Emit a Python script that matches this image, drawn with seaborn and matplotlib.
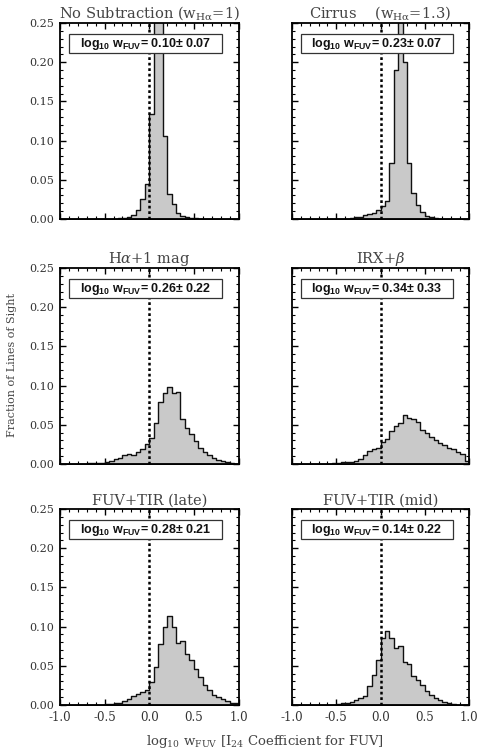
import numpy as np
import pandas as pd
import matplotlib
matplotlib.use("Agg")
import matplotlib.pyplot as plt
from matplotlib.ticker import MultipleLocator, FormatStrFormatter
from matplotlib.patches import Rectangle
import seaborn as sns

# ---------------- data ----------------
bin_edges = [round(-1.0 + 0.05 * i, 3) for i in range(41)]
bin_centers = [round(-0.975 + 0.05 * i, 3) for i in range(40)]

# fractions of lines of sight per 0.05 bin, from -1.0 to 1.0
frac_nosub = [0, 0, 0, 0, 0, 0, 0, 0, 0, 0,
              0, 0, 0, 0.001, 0.001, 0.002, 0.005, 0.012, 0.025, 0.045,
              0.134, 0.300, 0.290, 0.106, 0.032, 0.019, 0.008, 0.004, 0.002, 0.001,
              0.001, 0, 0, 0, 0, 0, 0, 0, 0, 0]
frac_cirrus = [0, 0, 0, 0, 0, 0, 0, 0, 0, 0,
               0, 0, 0, 0.001, 0.002, 0.003, 0.005, 0.006, 0.008, 0.011,
               0.016, 0.023, 0.072, 0.190, 0.310, 0.200, 0.072, 0.033, 0.018, 0.009,
               0.004, 0.002, 0.001, 0, 0, 0, 0, 0, 0, 0]
frac_halpha = [0, 0, 0, 0, 0, 0, 0.001, 0.001, 0.001, 0.001,
               0.002, 0.004, 0.006, 0.008, 0.011, 0.013, 0.011, 0.015, 0.019, 0.026,
               0.033, 0.052, 0.079, 0.091, 0.098, 0.091, 0.092, 0.057, 0.046, 0.038,
               0.029, 0.021, 0.015, 0.011, 0.008, 0.005, 0.004, 0.002, 0.001, 0]
frac_irx = [0, 0, 0, 0, 0, 0, 0, 0, 0, 0.001,
            0.001, 0.002, 0.002, 0.003, 0.004, 0.006, 0.011, 0.016, 0.019, 0.021,
            0.028, 0.032, 0.042, 0.049, 0.052, 0.062, 0.059, 0.058, 0.053, 0.044,
            0.040, 0.035, 0.031, 0.027, 0.024, 0.021, 0.019, 0.015, 0.013, 0.004]
frac_late = [0, 0, 0, 0, 0, 0, 0, 0, 0, 0,
             0.001, 0.001, 0.002, 0.003, 0.005, 0.008, 0.011, 0.014, 0.017, 0.019,
             0.029, 0.048, 0.078, 0.100, 0.113, 0.100, 0.079, 0.082, 0.065, 0.058,
             0.046, 0.036, 0.026, 0.019, 0.013, 0.010, 0.008, 0.005, 0.003, 0.002]
frac_mid = [0, 0, 0, 0, 0, 0, 0, 0, 0, 0,
            0.001, 0.002, 0.003, 0.004, 0.006, 0.009, 0.012, 0.024, 0.038, 0.058,
            0.085, 0.095, 0.086, 0.073, 0.075, 0.055, 0.052, 0.037, 0.032, 0.025,
            0.018, 0.013, 0.009, 0.006, 0.004, 0.002, 0.001, 0, 0, 0]

panel_titles = [r"No Subtraction ($\mathrm{w_{H\alpha}}$=1)",
                r"Cirrus    ($\mathrm{w_{H\alpha}}$=1.3)",
                r"H$\alpha$+1 mag",
                r"IRX+$\beta$",
                "FUV+TIR (late)",
                "FUV+TIR (mid)"]
mean_vals = ["0.10", "0.23", "0.26", "0.34", "0.28", "0.14"]
std_vals = ["0.07", "0.07", "0.22", "0.33", "0.21", "0.22"]
panel_fracs = [frac_nosub, frac_cirrus, frac_halpha, frac_irx, frac_late, frac_mid]

x_ticks = [-1.0, -0.5, 0.0, 0.5, 1.0]
y_ticks = [0.00, 0.05, 0.10, 0.15, 0.20, 0.25]

# ---------------- style ----------------
sns.set_theme(style="ticks")
plt.rcParams["font.family"] = ["DejaVu Serif"]
plt.rcParams["mathtext.fontset"] = "custom"
plt.rcParams["mathtext.rm"] = "DejaVu Serif"
plt.rcParams["mathtext.it"] = "DejaVu Serif:italic"
plt.rcParams["mathtext.bf"] = "Liberation Sans:bold"
plt.rcParams["mathtext.sf"] = "DejaVu Sans"

fig = plt.figure(figsize=(4.78, 7.49), dpi=100)

W, H = 478.0, 749.0
col_left = [60.0, 292.0]
col_width = [178.5, 177.0]
row_top = [23.0, 268.0, 509.0]
row_h = 196.0

for k in range(6):
    r, c = divmod(k, 2)
    ax = fig.add_axes([col_left[c] / W, 1 - (row_top[r] + row_h) / H,
                       col_width[c] / W, row_h / H])
    df = pd.DataFrame({"x": bin_centers, "w": panel_fracs[k]})
    sns.histplot(data=df, x="x", weights="w", bins=bin_edges, element="step",
                 fill=True, color="#c9c9c9", alpha=1.0, edgecolor="#111111",
                 linewidth=1.0, ax=ax)
    ax.axvline(0.0, color="black", linestyle=(0, (1.1, 1.1)), linewidth=1.8, zorder=5)
    ax.set_xlim(-1.0, 1.0)
    ax.set_ylim(0.0, 0.25)
    ax.set_xlabel("")
    ax.set_ylabel("")
    ax.set_xticks(x_ticks)
    ax.set_yticks(y_ticks)
    ax.xaxis.set_minor_locator(MultipleLocator(0.1))
    ax.yaxis.set_minor_locator(MultipleLocator(0.01))
    ax.xaxis.set_major_formatter(FormatStrFormatter("%.1f"))
    ax.yaxis.set_major_formatter(FormatStrFormatter("%.2f"))
    ax.tick_params(which="both", direction="in", top=True, right=True,
                   bottom=True, left=True, color="black", labelsize=8,
                   labelcolor="#333333", pad=4)
    ax.tick_params(which="major", length=4.5, width=1.0)
    ax.tick_params(which="minor", length=2.2, width=0.8)
    if c == 1:
        ax.tick_params(labelleft=False)
    if r < 2:
        ax.tick_params(labelbottom=False)
    else:
        ax.tick_params(axis="x", labelsize=8.5)
    for s in ax.spines.values():
        s.set_linewidth(1.3)
        s.set_color("black")
        s.set_visible(True)
    ax.set_title(panel_titles[k], fontsize=10.5, color="#444444", pad=3)
    # annotation box
    ax.add_patch(Rectangle((0.05, 0.845), 0.86, 0.1, transform=ax.transAxes,
                           facecolor="white", edgecolor="#333333", linewidth=0.9,
                           zorder=6))
    ax.text(0.48, 0.893,
            r"$\mathbf{log_{10}}$ $\mathbf{w_{FUV}}$= " + mean_vals[k] + "\u00b1 " + std_vals[k],
            transform=ax.transAxes, ha="center", va="center", fontsize=9,
            family="Liberation Sans", fontweight="bold", color="#111111", zorder=7)

fig.text(0.025, 1 - 365 / H, "Fraction of Lines of Sight", rotation=90,
         ha="center", va="center", fontsize=8, color="#444444")
fig.text(0.555, 1 - 741 / H,
         r"log$_{10}$ w$_{\mathrm{FUV}}$ [I$_{24}$ Coefficient for FUV]",
         ha="center", va="center", fontsize=9.5, color="#444444")

fig.savefig("out.png", dpi=100)
